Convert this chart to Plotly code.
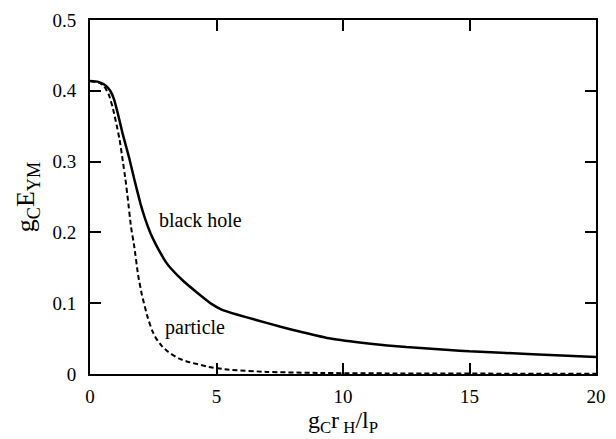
import plotly.graph_objects as go

# Black hole curve
bh_x = [0, 0.3, 0.6, 0.8, 0.95, 1.1, 1.3, 1.55, 1.75, 2.0, 2.2, 2.4, 2.6, 2.8, 3.0, 3.2, 3.7, 4.3, 4.8, 5.2, 5.8, 6.6, 7.5, 8.4, 9.5, 11.0, 12.5, 14.2, 15.0, 17.5, 20.0]
bh_y = [0.414, 0.413, 0.408, 0.400, 0.388, 0.368, 0.338, 0.305, 0.275, 0.240, 0.217, 0.198, 0.183, 0.170, 0.158, 0.149, 0.131, 0.113, 0.099, 0.091, 0.084, 0.076, 0.067, 0.059, 0.050, 0.043, 0.038, 0.034, 0.032, 0.028, 0.024]

# Particle curve
pt_x = [0, 0.4, 0.6, 0.75, 0.9, 1.05, 1.17, 1.3, 1.4, 1.5, 1.62, 1.75, 1.9, 2.05, 2.27, 2.45, 2.6, 2.85, 3.1, 3.5, 3.9, 4.7, 5.5, 7.0, 9.0, 12.0, 20.0]
pt_y = [0.414, 0.411, 0.404, 0.394, 0.376, 0.352, 0.331, 0.300, 0.275, 0.246, 0.208, 0.180, 0.140, 0.112, 0.081, 0.062, 0.051, 0.039, 0.031, 0.022, 0.017, 0.010, 0.006, 0.003, 0.0015, 0.0008, 0.0003]

x_ticks = [0, 5, 10, 15, 20]
y_ticks = [0, 0.1, 0.2, 0.3, 0.4, 0.5]
y_tick_labels = ["0", "0.1", "0.2", "0.3", "0.4", "0.5"]

labels = [("black hole", 4.35, 0.218), ("particle", 4.15, 0.065)]

serif = "Liberation Serif"

fig = go.Figure()
fig.add_trace(go.Scatter(x=pt_x, y=pt_y, mode="lines", line=dict(color="black", width=2, dash="5px,3px", shape="spline", smoothing=0.4), showlegend=False))
fig.add_trace(go.Scatter(x=bh_x, y=bh_y, mode="lines", line=dict(color="black", width=2.5, shape="spline", smoothing=0.4), showlegend=False))

for text, lx, ly in labels:
    fig.add_annotation(x=lx, y=ly, text=text, showarrow=False, font=dict(family=serif, size=20, color="black"))

axis_common = dict(showline=True, linecolor="black", linewidth=2, mirror="ticks", ticks="inside",
                   ticklen=11, tickwidth=2, tickcolor="black", showgrid=False, zeroline=False,
                   tickfont=dict(family=serif, size=19, color="black"))

fig.update_xaxes(range=[0, 20], tickvals=x_ticks, ticktext=[str(v) for v in x_ticks],
                 title=dict(text="g<sub>C</sub>r<sub> H</sub>/l<sub>P</sub>", font=dict(family=serif, size=24, color="black"), standoff=2),
                 ticklabelstandoff=4, **axis_common)
fig.update_yaxes(range=[0, 0.5], tickvals=y_ticks, ticktext=y_tick_labels,
                 title=dict(text="g<sub>C</sub>E<sub>YM</sub>", font=dict(family=serif, size=26, color="black"), standoff=10),
                 ticklabelstandoff=8, **axis_common)

fig.update_layout(width=616, height=439, margin=dict(l=90, r=10, t=10, b=65),
                  plot_bgcolor="white", paper_bgcolor="white",
                  font=dict(family=serif, color="black"))

fig.write_html("out.html")
